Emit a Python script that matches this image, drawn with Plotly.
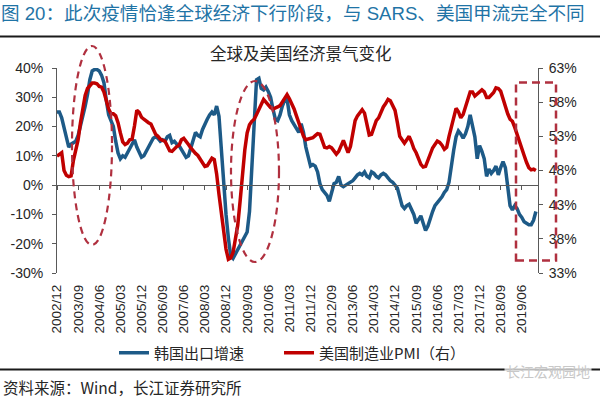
import plotly.graph_objects as go
import pandas as pd

# ---------------- data ----------------
months = [d.strftime("%Y/%m") for d in pd.date_range("2002-12-01", "2019-12-01", freq="MS")]

korea_export = [
    25, 25, 23, 20, 16, 13, 14, 14.5, 15, 17,
    20, 23, 27, 31, 36, 39, 39.5, 39.5, 39, 37.5,
    35, 29, 24, 22, 20, 15, 11, 9, 10, 9.5,
    11, 13, 14.5, 15.5, 13, 11, 9.5, 10, 11.5, 13,
    14.5, 16, 16.5, 16, 15, 15.5, 15, 16.5, 17, 14.5,
    15, 14, 13.5, 12, 11, 9.5, 10, 13, 16, 18,
    17, 16.5, 19, 21, 22.5, 24, 25, 24, 27, 23.5,
    12, 3, -10, -18, -24, -25, -23.5, -22, -21, -19.5,
    -18, -16, -9, 5, 22, 36, 36.5, 33, 32.5, 33.5,
    32, 30, 26, 22.5, 22, 24, 27, 29, 29.5, 24,
    22, 20.5, 19, 18, 21, 18, 13, 9, 6.5, 7,
    6.5, 4.5, 0.5, -1.5, -2.5, -3.5, -5.5, -2, 0.5, 1,
    3, 0, -0.5, 0, 0.5, 1, 1.5, 2.5, 3.5, 4,
    3.5, 4.5, 3, 2.5, 4.5, 4, 3, 2.5, 3.5, 4,
    3.5, 2.5, 1.5, 1, 0, -1, -4, -7, -8, -7,
    -6.5, -8, -10, -13, -11.5, -10.5, -13, -15.5, -14, -11,
    -9, -7, -6, -5, -4, -2.5, -1.5, 1, 7, 12,
    16.5, 18.5, 17.5, 16, 17.5, 20, 24, 20, 16.5, 9,
    13.5, 11.5, 9, 3, 5.5, 4, 5, 6.5, 3.5, 6,
    8, 6, -2, -7, -8.5, -7, -8, -10, -11, -12.5,
    -13, -13.5, -13.5, -12, -9,
]

us_pmi = [
    50.1, 50.4, 50.6, 48, 47.3, 47.1, 47.2, 49.5, 51, 52.5,
    55, 57, 59, 60, 60.5, 60.8, 60.8, 60.7, 60.3, 60.2,
    59.5, 58.2, 57, 56.3, 56.3, 56, 55, 53.5, 52.2, 51.8,
    52, 52.5, 52.6, 54.5, 56.8, 56.5, 55.8, 55.5, 55.2, 55,
    54.8, 54, 53.3, 53, 52.6, 52.4, 52.3, 51.6, 50.9, 50.8,
    51.2, 51.5, 51.7, 52.5, 52.7, 52.3, 51.8, 51.3, 50.8, 50.5,
    50.2, 49.6, 49, 48.6, 48.7, 49.3, 49.8, 49.6, 47.5, 44.5,
    41.5, 38.5, 36.5, 35, 35.2, 36, 37.8, 40, 43.5, 47.5,
    51, 53.5, 54.7, 55.2, 55.5, 56.2, 57, 57.8, 58.4, 58,
    57.5, 57.2, 57, 57.1, 57.3, 57.5, 58, 58.7, 59.1, 58.5,
    57.8, 57, 56, 55, 54, 53, 52.5, 52.6, 52.7, 52.8,
    53.1, 53.4, 53.3, 52.2, 51.4, 51.3, 51.5, 51.3, 50.8, 50.4,
    50.8, 51.7, 52.4, 51.5, 50.6, 51.5, 53.5, 55.3, 56, 56.5,
    56.9, 56.4, 54.5, 53.2, 53.3, 54.5, 55.3, 55.7, 56.6, 57.3,
    57.8, 58.4, 58.2, 57.5, 56.8, 55, 53, 52.5, 52, 52.5,
    53, 52.2, 51.2, 50.6, 49.6, 48.9, 48.5, 48.6, 49.5, 50.5,
    51.3, 51.8, 52.3, 52.1, 51.7, 51.1, 51.4, 53, 54.5, 56,
    57.1, 56.6, 55.7, 56.2, 57.2, 58.2, 59.5, 59.5, 58.9, 59.2,
    59.5, 59.8, 59.5, 58.7, 58.7, 59, 59.4, 60.1, 60, 59.6,
    58.5, 57, 56.3, 55.5, 55.2, 54.3, 53.2, 52, 51.2, 50.2,
    49.2, 48.4, 48.1, 48.2, 48,
]

tick_labels = ["2002/12", "2003/09", "2004/06", "2005/03", "2005/12", "2006/09",
               "2007/06", "2008/03", "2008/12", "2009/09", "2010/06", "2011/03",
               "2011/12", "2012/09", "2013/06", "2014/03", "2014/12", "2015/09",
               "2016/06", "2017/03", "2017/12", "2018/09", "2019/06"]

left_ticks = [-30, -20, -10, 0, 10, 20, 30, 40]
right_ticks = [33, 38, 43, 48, 53, 58, 63]

series_names = ["韩国出口增速", "美国制造业PMI（右）"]

# ---------------- styles ----------------
BLUE = "#1D5A87"
RED = "#C00000"
DASH_RED = "#B0303F"
AXIS = "#595959"
TXT = "#262626"
FONT = "Liberation Sans, Noto Sans CJK SC, sans-serif"
CJK = "Noto Sans CJK SC, Liberation Sans, sans-serif"
LEGEND_PAD = "\u3000\u3000"

W, H = 600, 399
ML, MR, MT, MB = 57, 62, 68, 126

idx = list(range(len(months)))
tick_idx = [months.index(t) for t in tick_labels]
x_range = [0, len(months) - 1 + 0.9]
left_range = [left_ticks[0], left_ticks[-1]]
right_range = [right_ticks[0], right_ticks[-1]]
zero_pos = (0 - left_range[0]) / (left_range[1] - left_range[0])

fig = go.Figure()
# invisible carrier so the bottom label axis is drawn
fig.add_trace(go.Scatter(x=idx, y=korea_export, mode="lines", opacity=0,
                         showlegend=False, hoverinfo="skip", xaxis="x2", yaxis="y"))
fig.add_trace(go.Scatter(x=months, y=korea_export, name=series_names[0] + LEGEND_PAD, mode="lines",
                         line=dict(color=BLUE, width=3.5), xaxis="x", yaxis="y"))
fig.add_trace(go.Scatter(x=months, y=us_pmi, name=series_names[1], mode="lines",
                         line=dict(color=RED, width=3.5), xaxis="x", yaxis="y2"))

pw = W - ML - MR
ph = H - MT - MB
def px_x(p):
    return (p - ML) / pw
def px_y(p):
    return (H - MB - p) / ph

shapes = [
    dict(type="circle", xref="paper", yref="paper",
         x0=px_x(72), x1=px_x(112), y0=px_y(245), y1=px_y(46),
         line=dict(color=DASH_RED, width=2.2, dash="7px,5px")),
    dict(type="circle", xref="paper", yref="paper",
         x0=px_x(231), x1=px_x(279), y0=px_y(262), y1=px_y(81),
         line=dict(color=DASH_RED, width=2.2, dash="7px,5px")),
    dict(type="rect", xref="paper", yref="paper",
         x0=px_x(516), x1=px_x(556), y0=px_y(260.5), y1=px_y(82.5),
         line=dict(color=DASH_RED, width=2.5, dash="8px,5px")),
    dict(type="line", xref="paper", yref="paper",
         x0=px_x(0), x1=px_x(600), y0=px_y(36.5), y1=px_y(36.5),
         line=dict(color="#1a1a1a", width=2)),
    dict(type="line", xref="paper", yref="paper",
         x0=px_x(0), x1=px_x(600), y0=px_y(369.5), y1=px_y(369.5),
         line=dict(color="#1a1a1a", width=2)),
]

annotations = [
    dict(text="全球及美国经济景气变化", xref="paper", yref="paper",
         x=px_x(301), y=px_y(53), showarrow=False, xanchor="center", yanchor="middle",
         font=dict(family=CJK, size=16.5, color=TXT)),
    dict(text="资料来源：Wind，长江证券研究所", xref="paper", yref="paper",
         x=px_x(1), y=px_y(387), showarrow=False, xanchor="left", yanchor="middle",
         font=dict(family=CJK, size=15.5, color=TXT)),
    dict(text="长江宏观园地", xref="paper", yref="paper",
         x=px_x(592), y=px_y(371), showarrow=False, xanchor="right", yanchor="middle",
         font=dict(family=CJK, size=14, color="#C8C8C8"), bgcolor="rgba(255,255,255,0.7)"),
]

fig.update_layout(
    width=W, height=H,
    margin=dict(l=ML, r=MR, t=MT, b=MB, autoexpand=False),
    paper_bgcolor="white", plot_bgcolor="white",
    font=dict(family=FONT, color=TXT),
    title=dict(text="图 20：此次疫情恰逢全球经济下行阶段，与 SARS、美国甲流完全不同",
               xref="container", x=1 / W, xanchor="left",
               yref="container", y=1 - 13 / H, yanchor="middle",
               font=dict(family="Liberation Sans, Noto Sans CJK SC", size=18.6, color="#1F74A6")),
    xaxis=dict(type="category", range=x_range, anchor="free", position=zero_pos,
               showline=True, linecolor=AXIS, linewidth=1,
               tickmode="array", tickvals=[months[i] for i in tick_idx],
               ticks="outside", ticklen=4, tickcolor=AXIS, showticklabels=False,
               showgrid=False, zeroline=False),
    xaxis2=dict(type="linear", overlaying="x", anchor="y", side="bottom", range=x_range,
                tickmode="array", tickvals=tick_idx, ticktext=tick_labels,
                tickangle=-90, ticks="", showline=False, showgrid=False, zeroline=False,
                ticklabelstandoff=8,
                tickfont=dict(family=FONT, size=13.5, color=TXT)),
    yaxis=dict(range=left_range, tickmode="array", tickvals=left_ticks,
               ticktext=[f"{v}%" for v in left_ticks],
               showline=True, linecolor=AXIS, linewidth=1, ticks="outside", ticklen=4,
               tickcolor=AXIS, showgrid=False, zeroline=False, ticklabelstandoff=6,
               tickfont=dict(family=FONT, size=14, color=TXT)),
    yaxis2=dict(range=right_range, overlaying="y", side="right", anchor="x",
                tickmode="array", tickvals=right_ticks,
                ticktext=[f"{v}%" for v in right_ticks],
                showline=True, linecolor=AXIS, linewidth=1, ticks="outside", ticklen=4,
                tickcolor=AXIS, showgrid=False, zeroline=False, ticklabelstandoff=3,
                tickfont=dict(family=FONT, size=14, color=TXT)),
    legend=dict(orientation="h", x=px_x(114), xanchor="left", y=px_y(353), yanchor="middle",
                font=dict(family=CJK, size=15, color=TXT), itemwidth=30,
                bgcolor="rgba(0,0,0,0)", tracegroupgap=0),
    shapes=shapes,
    annotations=annotations,
    showlegend=True,
)

fig.write_html("out.html", config={"displayModeBar": False},
               post_script="document.body.style.margin='0';document.body.style.padding='0';")
